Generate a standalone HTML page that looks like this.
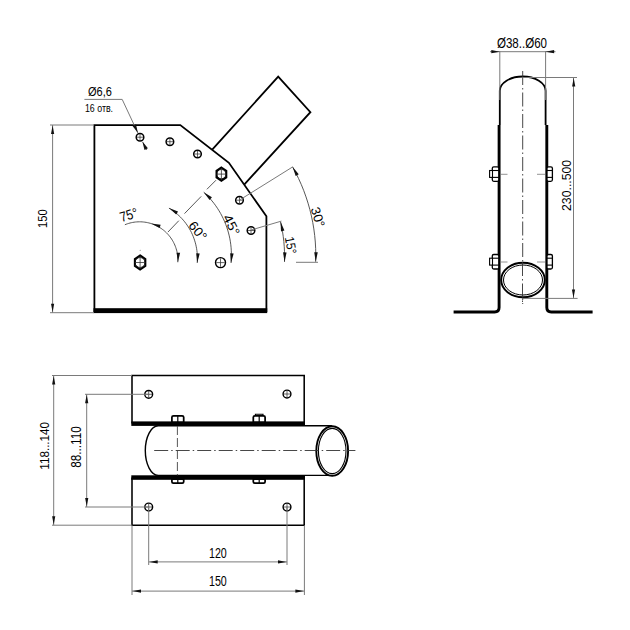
<!DOCTYPE html>
<html><head><meta charset="utf-8"><style>
html,body{margin:0;padding:0;background:#fff;}
svg{display:block;}
text{font-family:"Liberation Sans",sans-serif;fill:#000;}
</style></head><body>
<svg width="630" height="630" viewBox="0 0 630 630">
<rect width="630" height="630" fill="#fff"/>
<path d="M94.40,312.00 L94.40,125.10 L180.30,125.10 L228.90,162.80 L266.40,216.30 L266.40,312.00" fill="none" stroke="#000" stroke-width="1.8" stroke-linejoin="miter" />
<rect x="93.5" y="308.2" width="173.7" height="4.9" fill="#000"/>
<path d="M212.20,149.60 L278.20,76.70 L310.40,112.20 L244.40,184.30" fill="none" stroke="#000" stroke-width="1.8" stroke-linejoin="miter" />
<line x1="167.90" y1="232.10" x2="178.80" y2="220.70" stroke="#444" stroke-width="0.9" />
<line x1="184.50" y1="213.60" x2="201.20" y2="196.40" stroke="#444" stroke-width="0.9" />
<line x1="206.90" y1="189.30" x2="216.00" y2="180.20" stroke="#444" stroke-width="0.9" />
<circle cx="140.00" cy="137.20" r="3.8" fill="none" stroke="#000" stroke-width="1.5"/>
<line x1="136.77" y1="137.20" x2="143.23" y2="137.20" stroke="#333" stroke-width="0.75" />
<line x1="140.00" y1="133.97" x2="140.00" y2="140.43" stroke="#333" stroke-width="0.75" />
<circle cx="169.90" cy="141.70" r="3.8" fill="none" stroke="#000" stroke-width="1.5"/>
<line x1="166.67" y1="141.70" x2="173.13" y2="141.70" stroke="#333" stroke-width="0.75" />
<line x1="169.90" y1="138.47" x2="169.90" y2="144.93" stroke="#333" stroke-width="0.75" />
<circle cx="197.50" cy="154.00" r="3.8" fill="none" stroke="#000" stroke-width="1.5"/>
<line x1="194.27" y1="154.00" x2="200.73" y2="154.00" stroke="#333" stroke-width="0.75" />
<line x1="197.50" y1="150.77" x2="197.50" y2="157.23" stroke="#333" stroke-width="0.75" />
<circle cx="239.50" cy="200.20" r="3.8" fill="none" stroke="#000" stroke-width="1.5"/>
<line x1="236.27" y1="200.20" x2="242.73" y2="200.20" stroke="#333" stroke-width="0.75" />
<line x1="239.50" y1="196.97" x2="239.50" y2="203.43" stroke="#333" stroke-width="0.75" />
<circle cx="251.00" cy="230.50" r="3.8" fill="none" stroke="#000" stroke-width="1.5"/>
<line x1="247.77" y1="230.50" x2="254.23" y2="230.50" stroke="#333" stroke-width="0.75" />
<line x1="251.00" y1="227.27" x2="251.00" y2="233.73" stroke="#333" stroke-width="0.75" />
<circle cx="220.50" cy="262.60" r="5.0" fill="none" stroke="#000" stroke-width="1.4"/>
<line x1="216.25" y1="262.60" x2="224.75" y2="262.60" stroke="#333" stroke-width="0.75" />
<line x1="220.50" y1="258.35" x2="220.50" y2="266.85" stroke="#333" stroke-width="0.75" />
<path d="M221.40,167.50 L226.30,170.80 L226.30,177.40 L221.40,180.70 L216.50,177.40 L216.50,170.80 Z" fill="none" stroke="#000" stroke-width="2.0" stroke-linejoin="miter" />
<circle cx="221.40" cy="174.10" r="4.66" fill="none" stroke="#000" stroke-width="0.8"/>
<line x1="216.50" y1="174.10" x2="226.30" y2="174.10" stroke="#333" stroke-width="0.8" />
<line x1="221.40" y1="169.20" x2="221.40" y2="179.00" stroke="#333" stroke-width="0.8" />
<path d="M140.10,255.40 L145.35,258.95 L145.35,266.05 L140.10,269.60 L134.85,266.05 L134.85,258.95 Z" fill="none" stroke="#000" stroke-width="2.0" stroke-linejoin="miter" />
<circle cx="140.10" cy="262.50" r="4.99" fill="none" stroke="#000" stroke-width="0.8"/>
<line x1="134.85" y1="262.50" x2="145.35" y2="262.50" stroke="#333" stroke-width="0.8" />
<line x1="140.10" y1="257.25" x2="140.10" y2="267.75" stroke="#333" stroke-width="0.8" />
<circle cx="140.2" cy="250.3" r="0.5" fill="#777"/>
<path d="M177.84,262.24 L177.89,260.88 L177.90,259.52 L177.85,258.17 L177.76,256.81 L177.62,255.46 L177.43,254.12 L177.19,252.78 L176.91,251.45 L176.58,250.13 L176.20,248.83 L175.78,247.54 L175.31,246.26 L174.80,245.01 L174.24,243.77 L173.64,242.55 L173.00,241.35 L172.31,240.18 L171.59,239.03 L170.82,237.91 L170.01,236.82 L169.17,235.76 L168.29,234.72 L167.37,233.72 L166.42,232.76 L165.43,231.82 L164.41,230.92 L163.36,230.06 L162.28,229.24 L161.17,228.45 L160.04,227.71 L158.88,227.01 L157.69,226.34 L156.48,225.72 L155.26,225.15 L154.01,224.61 L152.74,224.12 L151.46,223.68 L150.16,223.28 L148.85,222.93 L147.52,222.63 L146.19,222.37 L144.85,222.16 L143.50,222.00 L142.15,221.88 L140.79,221.82 L139.43,221.80 L138.07,221.83 L136.72,221.91 L135.37,222.03 L134.02,222.21 L132.68,222.43 L131.35,222.70 L130.03,223.02 L128.72,223.38 L127.42,223.79 L126.14,224.24 L124.88,224.74" fill="none" stroke="#444" stroke-width="0.9"/>
<path d="M177.84,262.24 L176.62,252.66 L180.12,252.85 Z" fill="#111"/>
<path d="M151.05,223.55 L160.64,224.72 L159.60,228.06 Z" fill="#111"/>
<path d="M197.21,262.88 L197.34,260.79 L197.40,258.69 L197.38,256.60 L197.28,254.51 L197.11,252.42 L196.87,250.34 L196.55,248.27 L196.15,246.21 L195.69,244.17 L195.15,242.15 L194.53,240.15 L193.85,238.17 L193.10,236.21 L192.27,234.29 L191.38,232.40 L190.42,230.53 L189.39,228.71 L188.30,226.92 L187.14,225.18 L185.93,223.47 L184.65,221.81 L183.31,220.20 L181.92,218.64 L180.47,217.12 L178.97,215.67 L177.42,214.26 L175.81,212.91 L174.16,211.62 L172.47,210.39 L170.73,209.23 L168.95,208.12" fill="none" stroke="#444" stroke-width="0.9"/>
<path d="M197.21,262.88 L196.23,253.27 L199.72,253.55 Z" fill="#111"/>
<path d="M168.95,208.12 L178.01,211.48 L176.22,214.49 Z" fill="#111"/>
<path d="M231.01,262.91 L231.25,259.90 L231.37,256.88 L231.39,253.86 L231.31,250.84 L231.11,247.82 L230.81,244.82 L230.40,241.82 L229.88,238.85 L229.26,235.89 L228.53,232.96 L227.70,230.05 L226.76,227.18 L225.73,224.34 L224.59,221.55 L223.35,218.79 L222.02,216.08 L220.59,213.42 L219.06,210.81 L217.45,208.26 L215.74,205.77 L213.95,203.33 L212.06,200.97 L210.10,198.67 L208.06,196.45 L205.93,194.30 L203.74,192.23" fill="none" stroke="#444" stroke-width="0.9"/>
<path d="M231.01,262.91 L230.18,253.28 L233.66,253.62 Z" fill="#111"/>
<path d="M203.74,192.23 L211.94,197.33 L209.59,199.92 Z" fill="#111"/>
<path d="M315.69,261.80 L315.80,255.21 L315.67,248.61 L315.30,242.02 L314.68,235.45 L313.83,228.91 L312.74,222.40 L311.41,215.94 L309.85,209.53 L308.06,203.18 L306.03,196.90 L303.77,190.70 L301.30,184.59 L298.59,178.57 L295.67,172.65 L292.54,166.84" fill="none" stroke="#444" stroke-width="0.9"/>
<path d="M315.69,261.80 L314.27,252.25 L317.77,252.37 Z" fill="#111"/>
<path d="M292.54,166.84 L298.73,174.26 L295.68,175.98 Z" fill="#111"/>
<path d="M284.52,261.89 L284.60,256.83 L284.51,251.77 L284.26,246.72 L283.84,241.68 L283.26,236.66 L282.52,231.65 L281.62,226.68 L280.55,221.73" fill="none" stroke="#444" stroke-width="0.9"/>
<path d="M284.52,261.89 L283.07,252.34 L286.57,252.45 Z" fill="#111"/>
<path d="M280.55,221.73 L284.41,230.59 L281.00,231.38 Z" fill="#111"/>
<text x="128.70" y="219.74" font-size="14.0" text-anchor="middle" textLength="18.3" lengthAdjust="spacingAndGlyphs" transform="rotate(-17 128.70 214.70)">75°</text>
<text x="197.90" y="235.48" font-size="13.0" text-anchor="middle" textLength="20.8" lengthAdjust="spacingAndGlyphs" transform="rotate(50 197.90 230.80)">60°</text>
<text x="231.60" y="229.53" font-size="13.0" text-anchor="middle" textLength="21.78" lengthAdjust="spacingAndGlyphs" transform="rotate(63 231.60 224.85)">45°</text>
<text x="318.05" y="221.68" font-size="13.0" text-anchor="middle" textLength="20.27" lengthAdjust="spacingAndGlyphs" transform="rotate(72 318.05 217.00)">30°</text>
<text x="290.95" y="249.93" font-size="13.0" text-anchor="middle" textLength="17.5" lengthAdjust="spacingAndGlyphs" transform="rotate(80 290.95 245.25)">15°</text>
<line x1="239.60" y1="200.00" x2="292.70" y2="166.90" stroke="#7a7a7a" stroke-width="1.0" />
<line x1="251.10" y1="230.00" x2="281.40" y2="221.10" stroke="#7a7a7a" stroke-width="1.0" />
<line x1="296.00" y1="262.30" x2="318.00" y2="262.30" stroke="#7a7a7a" stroke-width="1.0" />
<line x1="50.00" y1="125.00" x2="94.00" y2="125.00" stroke="#7a7a7a" stroke-width="1.0" />
<line x1="50.00" y1="312.70" x2="94.00" y2="312.70" stroke="#7a7a7a" stroke-width="1.0" />
<line x1="52.60" y1="125.00" x2="52.60" y2="312.70" stroke="#7a7a7a" stroke-width="1.0" />
<path d="M52.60,125.50 L54.20,134.00 L51.00,134.00 Z" fill="#111"/>
<path d="M52.60,312.20 L51.00,303.70 L54.20,303.70 Z" fill="#111"/>
<text x="42.30" y="223.33" font-size="13.14" text-anchor="middle" textLength="18.66" lengthAdjust="spacingAndGlyphs" transform="rotate(-90 42.30 218.60)">150</text>
<line x1="84.40" y1="99.40" x2="122.20" y2="99.40" stroke="#7a7a7a" stroke-width="1.0" />
<line x1="122.20" y1="99.40" x2="137.80" y2="132.80" stroke="#7a7a7a" stroke-width="1.0" />
<path d="M137.90,133.00 L132.58,126.10 L136.02,124.49 Z" fill="#111"/>
<line x1="142.80" y1="142.20" x2="146.70" y2="150.00" stroke="#7a7a7a" stroke-width="1.0" />
<path d="M142.40,141.60 L147.90,148.35 L144.50,150.05 Z" fill="#111"/>
<text x="100.00" y="95.71" font-size="12.25" text-anchor="middle" textLength="23.82" lengthAdjust="spacingAndGlyphs">Ø6,6</text>
<text x="99.00" y="111.88" font-size="11.34" text-anchor="middle" textLength="28.12" lengthAdjust="spacingAndGlyphs">16 отв.</text>
<path d="M499.8,125 L499.8,90.8 A22.9,14.3 0 0 1 545.6,90.8 L545.6,125" fill="none" stroke="#000" stroke-width="1.8"/>
<path d="M499.1,125 L499.1,307.5 Q499.1,312 494.6,312 L453.6,312" fill="none" stroke="#000" stroke-width="2.9"/>
<path d="M546.8,125 L546.8,307.5 Q546.8,312 551.3,312 L592.6,312" fill="none" stroke="#000" stroke-width="2.9"/>
<line x1="522.7" y1="71" x2="522.7" y2="304" stroke="#333" stroke-width="0.9" stroke-dasharray="14,3,1.5,3"/>
<ellipse cx="523" cy="280" rx="21.8" ry="17.2" fill="#fff" stroke="#000" stroke-width="1.9"/>
<ellipse cx="523" cy="280" rx="19.5" ry="15" fill="none" stroke="#000" stroke-width="1.0"/>
<line x1="522.5" y1="262" x2="522.5" y2="304" stroke="#333" stroke-width="0.9" stroke-dasharray="14,3,1.5,3"/>
<line x1="501.00" y1="174.30" x2="507.50" y2="174.30" stroke="#777" stroke-width="0.8" />
<line x1="537.00" y1="174.30" x2="545.00" y2="174.30" stroke="#777" stroke-width="0.8" />
<rect x="492.3" y="166.8" width="6.5" height="14.5" rx="1.5" fill="#fff" stroke="#000" stroke-width="1.3"/>
<rect x="489.6" y="170.5" width="2.9" height="6.9" fill="#fff" stroke="#000" stroke-width="1.1"/>
<line x1="492.30" y1="170.50" x2="498.80" y2="170.50" stroke="#000" stroke-width="1.1" />
<line x1="492.30" y1="177.40" x2="498.80" y2="177.40" stroke="#000" stroke-width="1.1" />
<rect x="547" y="166.8" width="5.4" height="14.5" rx="1.5" fill="#fff" stroke="#000" stroke-width="1.3"/>
<line x1="547.00" y1="170.50" x2="552.40" y2="170.50" stroke="#000" stroke-width="1.1" />
<line x1="547.00" y1="177.40" x2="552.40" y2="177.40" stroke="#000" stroke-width="1.1" />
<line x1="501.00" y1="262.00" x2="507.50" y2="262.00" stroke="#777" stroke-width="0.8" />
<line x1="537.00" y1="262.00" x2="545.00" y2="262.00" stroke="#777" stroke-width="0.8" />
<rect x="492.3" y="254.5" width="6.5" height="14.5" rx="1.5" fill="#fff" stroke="#000" stroke-width="1.3"/>
<rect x="489.6" y="258.2" width="2.9" height="6.9" fill="#fff" stroke="#000" stroke-width="1.1"/>
<line x1="492.30" y1="258.20" x2="498.80" y2="258.20" stroke="#000" stroke-width="1.1" />
<line x1="492.30" y1="265.10" x2="498.80" y2="265.10" stroke="#000" stroke-width="1.1" />
<rect x="547" y="254.5" width="5.4" height="14.5" rx="1.5" fill="#fff" stroke="#000" stroke-width="1.3"/>
<line x1="547.00" y1="258.20" x2="552.40" y2="258.20" stroke="#000" stroke-width="1.1" />
<line x1="547.00" y1="265.10" x2="552.40" y2="265.10" stroke="#000" stroke-width="1.1" />
<line x1="499.80" y1="51.00" x2="499.80" y2="100.00" stroke="#7a7a7a" stroke-width="1.0" />
<line x1="545.60" y1="51.00" x2="545.60" y2="100.00" stroke="#7a7a7a" stroke-width="1.0" />
<line x1="490.00" y1="51.70" x2="555.50" y2="51.70" stroke="#7a7a7a" stroke-width="1.0" />
<path d="M499.80,51.70 L491.30,53.30 L491.30,50.10 Z" fill="#111"/>
<path d="M545.60,51.70 L554.10,50.10 L554.10,53.30 Z" fill="#111"/>
<text x="522.00" y="48.01" font-size="14.2" text-anchor="middle" textLength="50.06" lengthAdjust="spacingAndGlyphs">Ø38..Ø60</text>
<line x1="522.50" y1="77.50" x2="577.00" y2="77.50" stroke="#7a7a7a" stroke-width="1.0" />
<line x1="522.30" y1="298.40" x2="577.60" y2="298.40" stroke="#7a7a7a" stroke-width="1.0" />
<line x1="573.50" y1="77.90" x2="573.50" y2="298.40" stroke="#7a7a7a" stroke-width="1.0" />
<path d="M573.70,78.00 L575.30,86.50 L572.10,86.50 Z" fill="#111"/>
<path d="M573.50,297.90 L571.90,289.40 L575.10,289.40 Z" fill="#111"/>
<text x="566.40" y="190.30" font-size="13.61" text-anchor="middle" textLength="51.14" lengthAdjust="spacingAndGlyphs" transform="rotate(-90 566.40 185.40)">230...500</text>
<path d="M132.00,423.50 L132.00,375.50 L304.20,375.50 L304.20,423.50" fill="none" stroke="#000" stroke-width="1.55" stroke-linejoin="miter" />
<path d="M132.00,477.50 L132.00,525.20 L304.20,525.20 L304.20,477.50" fill="none" stroke="#000" stroke-width="1.55" stroke-linejoin="miter" />
<path d="M331.9,425.8 L158.3,425.8 A13,24.8 0 0 0 158.3,475.4 L331.9,475.4" fill="#fff" stroke="#000" stroke-width="1.4"/>
<rect x="131.3" y="421.4" width="173.7" height="4.5" fill="#000"/>
<rect x="131.3" y="475.3" width="173.7" height="4.5" fill="#000"/>
<ellipse cx="332.2" cy="451" rx="15.9" ry="24.8" fill="#fff" stroke="#000" stroke-width="1.9"/>
<ellipse cx="332.2" cy="451" rx="13.8" ry="22.6" fill="none" stroke="#000" stroke-width="1.1"/>
<line x1="154.2" y1="450.5" x2="355.4" y2="450.5" stroke="#333" stroke-width="0.9" stroke-dasharray="14,3,1.5,3"/>
<line x1="177.4" y1="426" x2="177.4" y2="475.4" stroke="#444" stroke-width="0.9" stroke-dasharray="9,3"/>
<path d="M171.9,422 L171.9,417.3 Q171.9,415.8 173.5,415.8 L182.10000000000002,415.8 Q183.70000000000002,415.8 183.70000000000002,417.3 L183.70000000000002,422 Z" fill="#fff" stroke="#000" stroke-width="1.75"/>
<line x1="177.80" y1="415.50" x2="177.80" y2="422.00" stroke="#000" stroke-width="1.2" />
<path d="M171.9,479 L171.9,481.8 Q171.9,483.1 173.3,483.1 L182.3,483.1 Q183.70000000000002,483.1 183.70000000000002,481.8 L183.70000000000002,479 Z" fill="#fff" stroke="#000" stroke-width="1.75"/>
<line x1="177.80" y1="479.50" x2="177.80" y2="483.20" stroke="#000" stroke-width="1.2" />
<path d="M253.29999999999998,422 L253.29999999999998,417.3 Q253.29999999999998,415.8 254.89999999999998,415.8 L263.5,415.8 Q265.09999999999997,415.8 265.09999999999997,417.3 L265.09999999999997,422 Z" fill="#fff" stroke="#000" stroke-width="1.75"/>
<line x1="259.20" y1="415.50" x2="259.20" y2="422.00" stroke="#000" stroke-width="1.2" />
<path d="M253.29999999999998,479 L253.29999999999998,481.8 Q253.29999999999998,483.1 254.7,483.1 L263.7,483.1 Q265.09999999999997,483.1 265.09999999999997,481.8 L265.09999999999997,479 Z" fill="#fff" stroke="#000" stroke-width="1.75"/>
<line x1="259.20" y1="479.50" x2="259.20" y2="483.20" stroke="#000" stroke-width="1.2" />
<path d="M255.4,415.6 L255.4,414.2 L263,414.2 L263,415.6" fill="none" stroke="#000" stroke-width="1.1"/>
<circle cx="148.70" cy="394.30" r="3.9" fill="none" stroke="#000" stroke-width="1.45"/>
<line x1="145.38" y1="394.30" x2="152.01" y2="394.30" stroke="#333" stroke-width="0.75" />
<line x1="148.70" y1="390.99" x2="148.70" y2="397.62" stroke="#333" stroke-width="0.75" />
<circle cx="148.70" cy="507.00" r="3.9" fill="none" stroke="#000" stroke-width="1.45"/>
<line x1="145.38" y1="507.00" x2="152.01" y2="507.00" stroke="#333" stroke-width="0.75" />
<line x1="148.70" y1="503.69" x2="148.70" y2="510.31" stroke="#333" stroke-width="0.75" />
<circle cx="287.00" cy="394.00" r="3.9" fill="none" stroke="#000" stroke-width="1.45"/>
<line x1="283.69" y1="394.00" x2="290.31" y2="394.00" stroke="#333" stroke-width="0.75" />
<line x1="287.00" y1="390.69" x2="287.00" y2="397.31" stroke="#333" stroke-width="0.75" />
<circle cx="287.00" cy="507.00" r="3.9" fill="none" stroke="#000" stroke-width="1.45"/>
<line x1="283.69" y1="507.00" x2="290.31" y2="507.00" stroke="#333" stroke-width="0.75" />
<line x1="287.00" y1="503.69" x2="287.00" y2="510.31" stroke="#333" stroke-width="0.75" />
<line x1="52.00" y1="375.50" x2="132.00" y2="375.50" stroke="#7a7a7a" stroke-width="1.0" />
<line x1="52.00" y1="525.20" x2="132.00" y2="525.20" stroke="#7a7a7a" stroke-width="1.0" />
<line x1="53.70" y1="375.50" x2="53.70" y2="525.20" stroke="#7a7a7a" stroke-width="1.0" />
<path d="M53.70,376.00 L55.30,384.50 L52.10,384.50 Z" fill="#111"/>
<path d="M53.70,524.70 L52.10,516.20 L55.30,516.20 Z" fill="#111"/>
<text x="44.00" y="450.53" font-size="13.15" text-anchor="middle" textLength="47.66" lengthAdjust="spacingAndGlyphs" transform="rotate(-90 44.00 445.80)">118...140</text>
<line x1="85.00" y1="394.30" x2="148.70" y2="394.30" stroke="#7a7a7a" stroke-width="1.0" />
<line x1="85.00" y1="507.00" x2="148.70" y2="507.00" stroke="#7a7a7a" stroke-width="1.0" />
<line x1="86.70" y1="394.30" x2="86.70" y2="507.00" stroke="#7a7a7a" stroke-width="1.0" />
<path d="M86.70,394.80 L88.30,403.30 L85.10,403.30 Z" fill="#111"/>
<path d="M86.70,506.50 L85.10,498.00 L88.30,498.00 Z" fill="#111"/>
<text x="76.20" y="452.12" font-size="14.22" text-anchor="middle" textLength="41.63" lengthAdjust="spacingAndGlyphs" transform="rotate(-90 76.20 447.00)">88...110</text>
<line x1="132.00" y1="525.20" x2="132.00" y2="595.00" stroke="#7a7a7a" stroke-width="1.0" />
<line x1="304.40" y1="525.20" x2="304.40" y2="595.00" stroke="#7a7a7a" stroke-width="1.0" />
<line x1="148.70" y1="507.00" x2="148.70" y2="565.00" stroke="#7a7a7a" stroke-width="1.0" />
<line x1="287.00" y1="507.00" x2="287.00" y2="565.00" stroke="#7a7a7a" stroke-width="1.0" />
<line x1="148.70" y1="561.90" x2="287.00" y2="561.90" stroke="#7a7a7a" stroke-width="1.0" />
<path d="M149.20,561.90 L157.70,560.30 L157.70,563.50 Z" fill="#111"/>
<path d="M286.50,561.90 L278.00,563.50 L278.00,560.30 Z" fill="#111"/>
<text x="217.90" y="557.73" font-size="13.96" text-anchor="middle" textLength="17.82" lengthAdjust="spacingAndGlyphs">120</text>
<line x1="132.00" y1="591.10" x2="304.40" y2="591.10" stroke="#7a7a7a" stroke-width="1.0" />
<path d="M132.50,591.10 L141.00,589.50 L141.00,592.70 Z" fill="#111"/>
<path d="M303.90,591.10 L295.40,592.70 L295.40,589.50 Z" fill="#111"/>
<text x="217.90" y="585.80" font-size="15.0" text-anchor="middle" textLength="17.82" lengthAdjust="spacingAndGlyphs">150</text>
</svg></body></html>
